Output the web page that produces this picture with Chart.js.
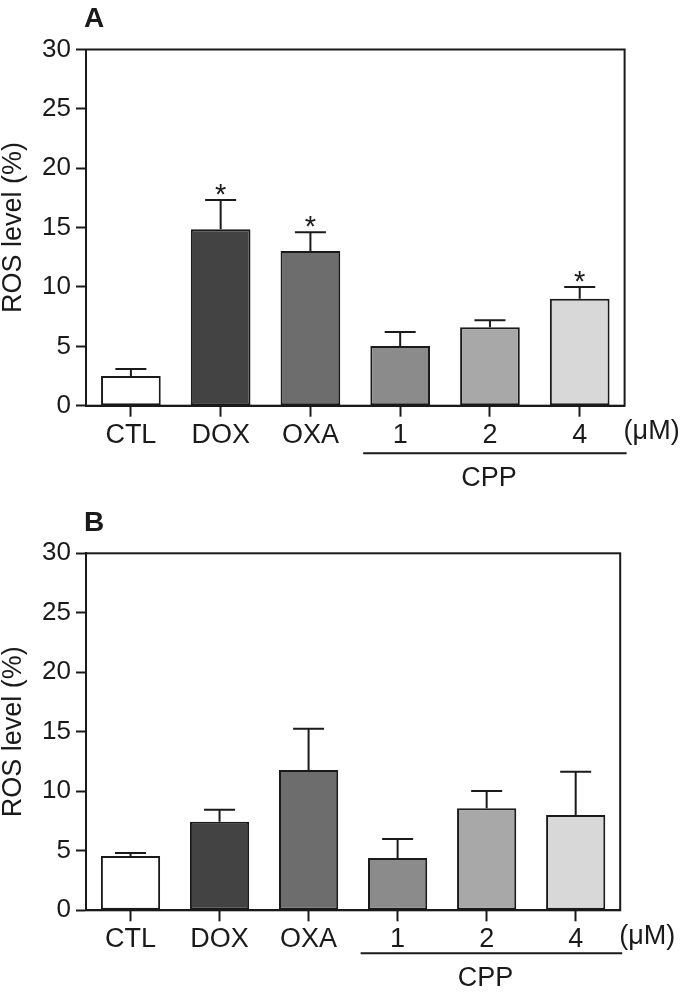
<!DOCTYPE html>
<html>
<head>
<meta charset="utf-8">
<script src="https://cdn.jsdelivr.net/npm/chart.js@4.4.1/dist/chart.umd.min.js"></script>
<style>
  html, body { margin: 0; padding: 0; background: #fff; }
  canvas { display: block; }
</style>
</head>
<body>
<canvas id="chartA" width="683" height="496"></canvas>
<canvas id="chartB" width="683" height="496"></canvas>
<script>
// groups on the x axis
var groups = ['CTL', 'DOX', 'OXA', '1', '2', '4'];
var barColors = ['#ffffff', '#434343', '#6d6d6d', '#8b8b8b', '#a8a8a8', '#d8d8d8'];
var yTicks = [0, 5, 10, 15, 20, 25, 30];

// panel A : mean and SEM
var rosA = [2.5, 14.86, 13.03, 5.03, 6.6, 9.0];
var semA = [0.6, 2.47, 1.57, 1.17, 0.6, 1.0];
var starA = [false, true, true, false, false, true];

// panel B : mean and SEM
var rosB = [4.56, 7.45, 11.8, 4.4, 8.57, 8.0];
var semB = [0.25, 1.0, 3.45, 1.6, 1.45, 3.65];
var starB = [false, false, false, false, false, false];

var ink = '#1a1a1a';
var fam = "'Liberation Sans', Arial, sans-serif";

// error bars, stars, frame, CPP bracket and the panel letter
var extras = {
  id: 'extras',
  afterDatasetsDraw: function(chart, args, o) {
    var ctx = chart.ctx;
    var a = chart.chartArea;
    var y = chart.scales.y;
    var bars = chart.getDatasetMeta(0).data;
    ctx.save();
    ctx.strokeStyle = ink;
    ctx.fillStyle = ink;
    ctx.lineWidth = 2;
    ctx.strokeRect(a.left, a.top, a.right - a.left, a.bottom - a.top);

    for (var i = 0; i < bars.length; i++) {
      var cx = bars[i].x;
      var y0 = y.getPixelForValue(o.vals[i]);
      var y1 = y.getPixelForValue(o.vals[i] + o.err[i]);
      ctx.beginPath();
      ctx.moveTo(cx, y0);
      ctx.lineTo(cx, y1);
      ctx.moveTo(cx - 15.5, y1);
      ctx.lineTo(cx + 15.5, y1);
      ctx.stroke();
      if (o.stars[i]) {
        ctx.font = '29px ' + fam;
        ctx.textAlign = 'center';
        ctx.textBaseline = 'alphabetic';
        ctx.fillText('*', cx, y1 + 4);
      }
    }

    // CPP bracket below the last three groups
    var x0 = bars[3].x - 37;
    var x1 = a.right + 2;
    ctx.beginPath();
    ctx.moveTo(x0, a.bottom + o.lineOff);
    ctx.lineTo(x1, a.bottom + o.lineOff);
    ctx.stroke();
    ctx.font = '27px ' + fam;
    ctx.textAlign = 'center';
    ctx.textBaseline = 'middle';
    ctx.fillText('CPP', (x0 + x1) / 2 - 6, a.bottom + o.lineOff + 25);
    ctx.textAlign = 'left';
    ctx.fillText('(\u03bcM)', a.right - 1, a.bottom + 26);

    ctx.font = 'bold 28px ' + fam;
    ctx.textAlign = 'left';
    ctx.textBaseline = 'alphabetic';
    ctx.fillText(o.letter, 84, o.letterY);
    ctx.restore();
  }
};

function makePanel(id, vals, err, stars, letter, pad, letterY, lineOff) {
  return new Chart(document.getElementById(id), {
    type: 'bar',
    data: {
      labels: groups,
      datasets: [{
        data: vals,
        backgroundColor: barColors,
        borderColor: ink,
        borderWidth: 2,
        borderSkipped: false,
        categoryPercentage: 1,
        barPercentage: 0.665
      }]
    },
    options: {
      responsive: false,
      animation: false,
      layout: { padding: pad },
      plugins: {
        legend: { display: false },
        tooltip: { enabled: false },
        extras: { vals: vals, err: err, stars: stars, letter: letter, letterY: letterY, lineOff: lineOff }
      },
      scales: {
        x: {
          grid: { display: true, offset: false, drawOnChartArea: false, tickLength: 11, tickWidth: 2, tickColor: ink },
          border: { color: ink, width: 2 },
          ticks: { color: ink, padding: 5, font: { family: fam, size: 27, lineHeight: 1 } },
          afterFit: function(s) { s.height = 40; }
        },
        y: {
          min: 0,
          max: 30,
          afterBuildTicks: function(s) { s.ticks = yTicks.map(function(v) { return { value: v }; }); },
          grid: { drawOnChartArea: false, tickLength: 10, tickWidth: 2, tickColor: ink },
          border: { color: ink, width: 2 },
          ticks: { color: ink, padding: 5, font: { family: fam, size: 26 } },
          title: { display: true, text: 'ROS level (%)', color: ink, padding: 0, font: { family: fam, size: 27, lineHeight: 1 } },
          afterFit: function(s) { s.width = 86; }
        }
      }
    },
    plugins: [extras]
  });
}

makePanel('chartA', rosA, semA, starA, 'A', { left: 0, right: 58.4, top: 49.5, bottom: 50.3 }, 27, 47.5);
makePanel('chartB', rosB, semB, starB, 'B', { left: 0, right: 62.8, top: 57.3, bottom: 41.7 }, 34.5, 43);
</script>
</body>
</html>
